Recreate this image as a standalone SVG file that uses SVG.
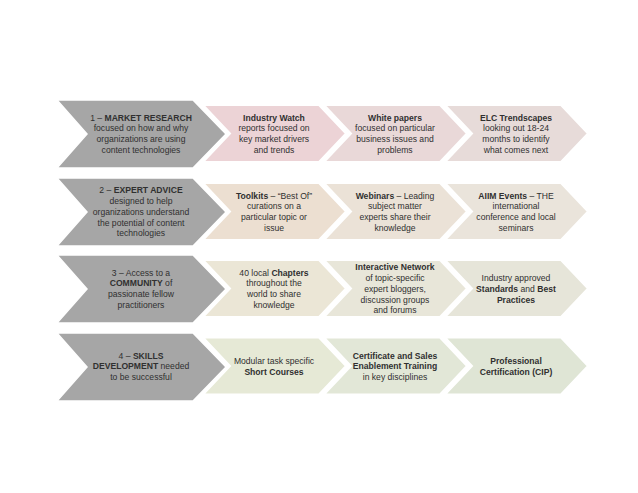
<svg xmlns="http://www.w3.org/2000/svg" width="638" height="493" viewBox="0 0 638 493">
<style>
.g{fill:#a6a6a6;stroke:#fff;stroke-width:1.5}
.s{stroke:#fff;stroke-width:2}
text{font-family:"Liberation Sans",Arial,sans-serif;font-size:8.6px;fill:#303030;text-anchor:middle}
.b{font-weight:bold}
</style>
<defs>
<path id="big" d="M0,0 H136 L169,34 L136,68 H0 L30,34 Z"/>
<path id="sm" d="M0,0 H116 L143,28.5 L116,57 H0 L27,28.5 Z"/>
</defs>
<rect width="638" height="493" fill="#fff"/>

<!-- Row 1 -->
<g id="n-ind-watch">
<use href="#sm" x="203" y="105" class="s" fill="#ecd3d6"/>
<text x="274" y="120.5"><tspan class="b">Industry Watch</tspan></text>
<text x="274" y="131.3">reports focused on</text>
<text x="274" y="142.1">key market drivers</text>
<text x="274" y="152.9">and trends</text>
</g>
<g id="n-white-papers">
<use href="#sm" x="324" y="105" class="s" fill="#e9d8d8"/>
<text x="395" y="120.5"><tspan class="b">White papers</tspan></text>
<text x="395" y="131.3">focused on particular</text>
<text x="395" y="142.1">business issues and</text>
<text x="395" y="152.9">problems</text>
</g>
<g id="n-elc">
<use href="#sm" x="445" y="105" class="s" fill="#e7dbd9"/>
<text x="516" y="120.5"><tspan class="b">ELC Trendscapes</tspan></text>
<text x="516" y="131.3">looking out 18-24</text>
<text x="516" y="142.1">months to identify</text>
<text x="516" y="152.9">what comes next</text>
</g>
<g id="n-market-research">
<use href="#big" x="57" y="100" class="g"/>
<text x="141" y="120.5">1 – <tspan class="b">MARKET RESEARCH</tspan></text>
<text x="141" y="131.3">focused on how and why</text>
<text x="141" y="142.1">organizations are using</text>
<text x="141" y="152.9">content technologies</text>
</g>

<!-- Row 2 -->
<g id="n-toolkits">
<use href="#sm" x="203" y="183" class="s" fill="#ecdfd1"/>
<text x="274" y="198.5"><tspan class="b">Toolkits</tspan> – “Best Of”</text>
<text x="274" y="209.3">curations on a</text>
<text x="274" y="220.1">particular topic or</text>
<text x="274" y="230.9">issue</text>
</g>
<g id="n-webinars">
<use href="#sm" x="324" y="183" class="s" fill="#ebe2d7"/>
<text x="395" y="198.5"><tspan class="b">Webinars</tspan> – Leading</text>
<text x="395" y="209.3">subject matter</text>
<text x="395" y="220.1">experts share their</text>
<text x="395" y="230.9">knowledge</text>
</g>
<g id="n-aiim-events">
<use href="#sm" x="445" y="183" class="s" fill="#eae4db"/>
<text x="516" y="198.5"><tspan class="b">AIIM Events</tspan> – THE</text>
<text x="516" y="209.3">international</text>
<text x="516" y="220.1">conference and local</text>
<text x="516" y="230.9">seminars</text>
</g>
<g id="n-expert-advice">
<use href="#big" x="57" y="178" class="g"/>
<text x="141" y="193.1">2 – <tspan class="b">EXPERT ADVICE</tspan></text>
<text x="141" y="203.9">designed to help</text>
<text x="141" y="214.7">organizations understand</text>
<text x="141" y="225.5">the potential of content</text>
<text x="141" y="236.3">technologies</text>
</g>

<!-- Row 3 -->
<g id="n-chapters">
<use href="#sm" x="203" y="260" class="s" fill="#ebe6d6"/>
<text x="274" y="275.5">40 local <tspan class="b">Chapters</tspan></text>
<text x="274" y="286.3">throughout the</text>
<text x="274" y="297.1">world to share</text>
<text x="274" y="307.9">knowledge</text>
</g>
<g id="n-network">
<use href="#sm" x="324" y="260" class="s" fill="#e8e6d9"/>
<text x="395" y="270.1"><tspan class="b">Interactive Network</tspan></text>
<text x="395" y="280.9">of topic-specific</text>
<text x="395" y="291.7">expert bloggers,</text>
<text x="395" y="302.5">discussion groups</text>
<text x="395" y="313.3">and forums</text>
</g>
<g id="n-standards">
<use href="#sm" x="445" y="260" class="s" fill="#e6e5d9"/>
<text x="516" y="280.9">Industry approved</text>
<text x="516" y="291.7"><tspan class="b">Standards</tspan> and <tspan class="b">Best</tspan></text>
<text x="516" y="302.5"><tspan class="b">Practices</tspan></text>
</g>
<g id="n-community">
<use href="#big" x="57" y="255" class="g"/>
<text x="141" y="275.5">3 – Access to a</text>
<text x="141" y="286.3"><tspan class="b">COMMUNITY</tspan> of</text>
<text x="141" y="297.1">passionate fellow</text>
<text x="141" y="307.9">practitioners</text>
</g>

<!-- Row 4 -->
<g id="n-short-courses">
<use href="#sm" x="203" y="337.5" class="s" fill="#e6e9d6"/>
<text x="274" y="364">Modular task specific</text>
<text x="274" y="374.8"><tspan class="b">Short Courses</tspan></text>
</g>
<g id="n-certificate">
<use href="#sm" x="324" y="337.5" class="s" fill="#e2e7d7"/>
<text x="395" y="358.6"><tspan class="b">Certificate and Sales</tspan></text>
<text x="395" y="369.4"><tspan class="b">Enablement Training</tspan></text>
<text x="395" y="380.2">in key disciplines</text>
</g>
<g id="n-professional">
<use href="#sm" x="445" y="337.5" class="s" fill="#dfe5d5"/>
<text x="516" y="364"><tspan class="b">Professional</tspan></text>
<text x="516" y="374.8"><tspan class="b">Certification (CIP)</tspan></text>
</g>
<g id="n-skills">
<use href="#big" x="57" y="333" class="g"/>
<text x="141" y="358.6">4 – <tspan class="b">SKILLS</tspan></text>
<text x="141" y="369.4"><tspan class="b">DEVELOPMENT</tspan> needed</text>
<text x="141" y="380.2">to be successful</text>
</g>
</svg>
